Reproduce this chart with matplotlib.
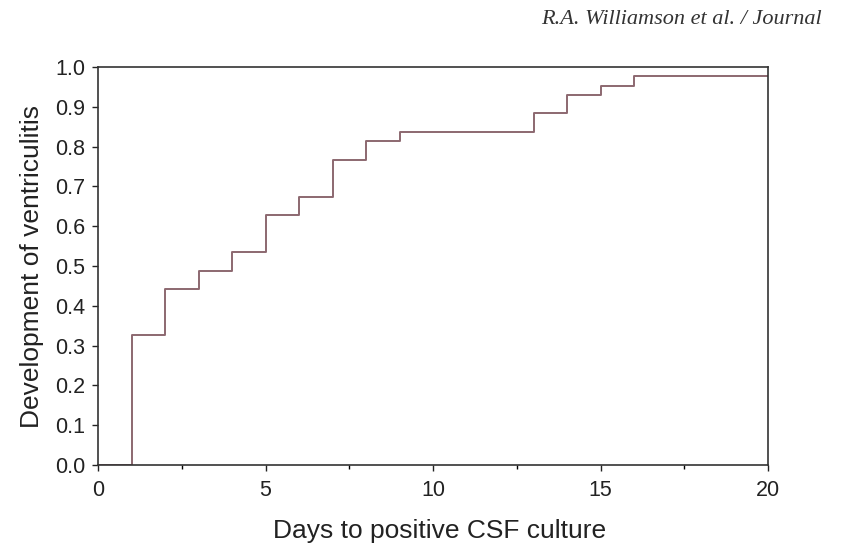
import matplotlib.pyplot as plt
from matplotlib.ticker import MultipleLocator, FormatStrFormatter

# Step data
days = [0, 1, 2, 3, 4, 5, 6, 7, 8, 9, 13, 14, 15, 16, 20]
cumulative = [0.0, 0.326, 0.442, 0.488, 0.535, 0.628, 0.674, 0.767,
              0.814, 0.837, 0.884, 0.930, 0.953, 0.977, 0.977]

plt.rcParams['font.family'] = ['Liberation Sans', 'DejaVu Sans']

fig = plt.figure(figsize=(8.53, 5.5), dpi=100)
ax = fig.add_axes([0.1149, 0.1545, 0.7855, 0.7235])

ax.step(days, cumulative, where='post', color='#8c6870', linewidth=1.4)

ax.set_xlim(0, 20)
ax.set_ylim(0, 1.0)
ax.xaxis.set_major_locator(MultipleLocator(5))
ax.xaxis.set_minor_locator(MultipleLocator(2.5))
ax.yaxis.set_major_locator(MultipleLocator(0.1))
ax.yaxis.set_major_formatter(FormatStrFormatter('%.1f'))

ax.tick_params(axis='both', which='major', direction='out', length=4,
               width=1, labelsize=15.5, colors='#222222')
ax.tick_params(axis='y', which='major', pad=5)
ax.tick_params(axis='x', which='major', pad=7)
ax.tick_params(axis='x', which='minor', direction='out', length=3, width=1)

for s in ax.spines.values():
    s.set_color('#333333')
    s.set_linewidth(1.2)

ax.set_xlabel('Days to positive CSF culture', fontsize=19, color='#222222')
ax.xaxis.set_label_coords(0.51, -0.135)
ax.set_ylabel('Development of ventriculitis', fontsize=19, color='#222222', labelpad=8)

# running header of the journal page, cut at the right edge in the scan
fig.text(0.634, 0.965, 'R.A. Williamson et al. / Journal', family='Liberation Serif',
         style='italic', fontsize=16, color='#333333', va='center', ha='left')

plt.savefig('out.png', dpi=100)
plt.close()
